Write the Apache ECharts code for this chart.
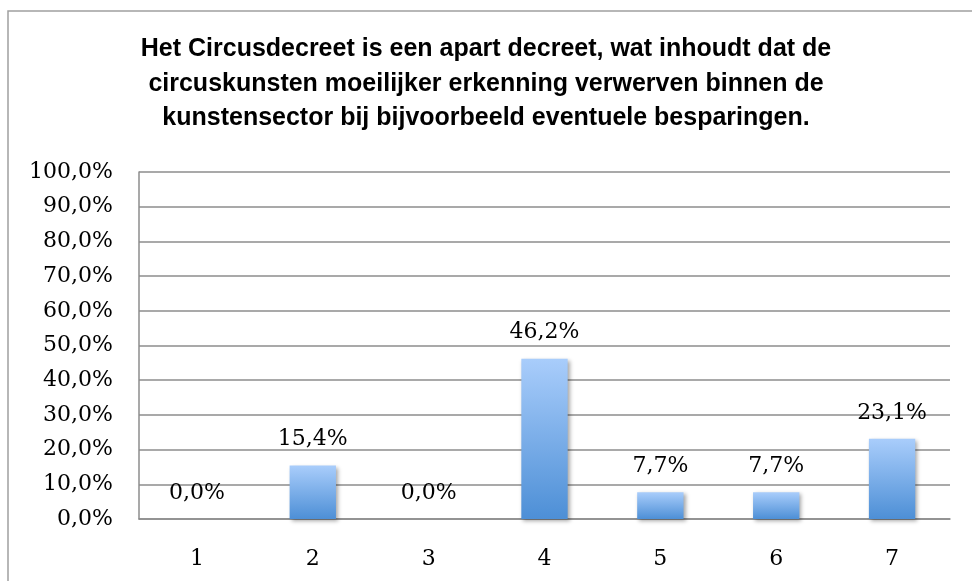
<!DOCTYPE html>
<html>
<head>
<meta charset="utf-8">
<script src="https://cdn.jsdelivr.net/npm/echarts@6/dist/echarts.min.js"></script>
<style>html,body{margin:0;padding:0;background:#fff;}#c{width:972px;height:581px;}</style>
</head>
<body>
<div id="c"></div>
<script>
const titleLines = [
  "Het Circusdecreet is een apart decreet, wat inhoudt dat de",
  "circuskunsten moeilijker erkenning verwerven binnen de",
  "kunstensector bij bijvoorbeeld eventuele besparingen."
];
const categories = ["1", "2", "3", "4", "5", "6", "7"];
const values = [0.0, 15.4, 0.0, 46.2, 7.7, 7.7, 23.1];
const yTicks = { min: 0, max: 100, interval: 10 };

function pct(v) { return v.toFixed(1).replace('.', ',') + '%'; }

const chart = echarts.init(document.getElementById('c'));
chart.setOption({
  animation: false,
  backgroundColor: '#fff',
  title: {
    text: titleLines.join('\n'),
    left: 'center',
    top: 27,
    textStyle: { fontFamily: 'Liberation Sans, Arial', fontWeight: 'bold', fontSize: 25, lineHeight: 34.5, color: '#000' }
  },
  graphic: [{
    type: 'rect', shape: { x: 8, y: 11, width: 1000, height: 700 },
    style: { fill: 'none', stroke: '#a0a0a0', lineWidth: 1.5 }, silent: true, z: -1
  }],
  grid: { left: 139, right: 22, top: 172, bottom: 62, containLabel: false },
  xAxis: {
    type: 'category', data: categories,
    axisLine: { show: true, lineStyle: { color: '#8c8c8c', width: 1.5 } },
    axisTick: { show: false },
    axisLabel: { color: '#000', fontFamily: 'DejaVu Serif, serif', fontSize: 22, margin: 29 }
  },
  yAxis: {
    type: 'value', min: yTicks.min, max: yTicks.max, interval: yTicks.interval,
    axisLine: { show: true, lineStyle: { color: '#8c8c8c', width: 1.5 } },
    axisTick: { show: false },
    splitLine: { lineStyle: { color: '#8c8c8c', width: 1.5 } },
    axisLabel: { color: '#000', fontFamily: 'DejaVu Serif, serif', fontSize: 22, margin: 26, padding: [5, 0, 0, 0], formatter: v => pct(v) }
  },
  series: [{
    type: 'bar', data: values, barWidth: '40%',
    itemStyle: {
      color: new echarts.graphic.LinearGradient(0, 0, 0, 1, [
        { offset: 0, color: '#a9cdfb' },
        { offset: 1, color: '#4d8fd6' }
      ]),
      shadowColor: 'rgba(0,0,0,0.35)', shadowBlur: 4, shadowOffsetX: 2, shadowOffsetY: 2
    },
    label: {
      show: true, position: 'top', distance: 15, color: '#000',
      fontFamily: 'DejaVu Serif, serif', fontSize: 22,
      formatter: p => pct(p.value)
    }
  }]
});
</script>
</body>
</html>
